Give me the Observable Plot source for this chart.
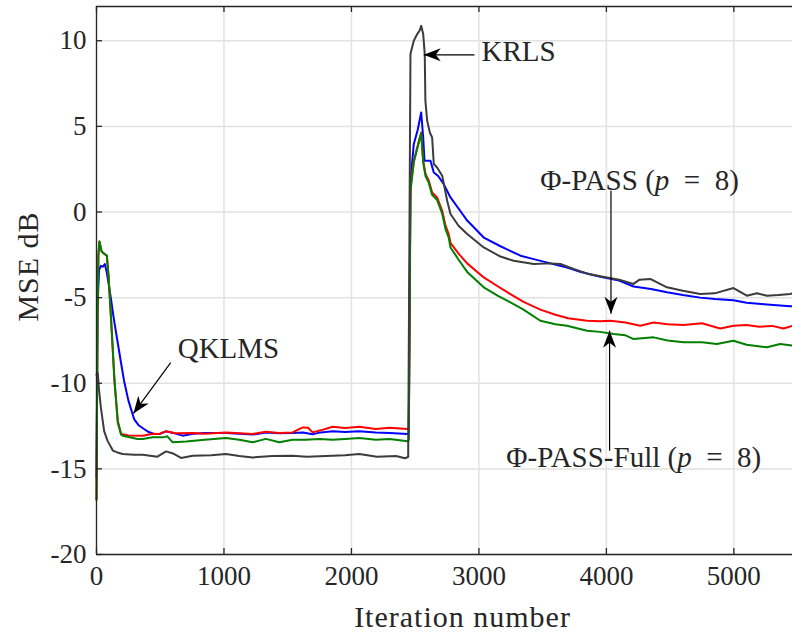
<!DOCTYPE html>
<html>
<head>
<meta charset="utf-8">
<script src="https://cdn.jsdelivr.net/npm/d3@7"></script>
<script src="https://cdn.jsdelivr.net/npm/@observablehq/plot@0.6"></script>
<style>
  html, body { margin: 0; padding: 0; background: #fff; }
  #chart svg { display: block; }
  #chart svg, #chart svg text { font-family: "Liberation Serif", "Times New Roman", serif !important; }
</style>
</head>
<body>
<div id="chart"></div>
<script>
// ---- data ----
const xDomain = [0, 5460];
const yDomain = [-20, 12];
const xTicks = [0, 1000, 2000, 3000, 4000, 5000];
const yTicks = [-20, -15, -10, -5, 0, 5, 10];
const xLabel = "Iteration number";
const yLabel = "MSE dB";

const seriesNames = ["QKLMS", "Φ-PASS", "Φ-PASS-Full", "KRLS"];
const seriesColors = ["#0000ff", "#ff0000", "#008000", "#3c3c3c"];

const qklms = [[0,-15.5],[8,-5.5],[20,-3.4],[34,-3.14],[50,-3.2],[65,-3.04],[80,-3.5],[95,-4.2],[112,-4.99],[135,-6.2],[164,-7.52],[190,-8.7],[216,-9.85],[250,-11.0],[295,-12.09],[330,-12.45],[373,-12.67],[410,-12.85],[451,-12.96],[500,-12.95],[546,-12.81],[600,-12.9],[676,-13.06],[760,-12.95],[850,-12.9],[1016,-12.9],[1120,-12.95],[1225,-13.0],[1329,-12.87],[1430,-12.92],[1538,-12.9],[1620,-12.88],[1695,-12.98],[1760,-12.87],[1852,-12.81],[1950,-12.85],[2061,-12.81],[2191,-12.87],[2300,-12.9],[2440,-12.96],[2450,-12.9],[2463,1.8],[2489,3.96],[2520,4.8],[2547,5.81],[2563,4.35],[2573,2.99],[2594,2.99],[2620,2.99],[2646,2.31],[2680,2.1],[2724,1.63],[2777,0.85],[2850,0.1],[2908,-0.5],[3038,-1.49],[3169,-2.0],[3326,-2.55],[3430,-2.75],[3560,-3.0],[3691,-3.24],[3800,-3.5],[3952,-3.78],[4100,-4.0],[4213,-4.35],[4350,-4.5],[4475,-4.69],[4600,-4.85],[4736,-5.0],[4850,-5.08],[4997,-5.15],[5100,-5.3],[5259,-5.4],[5441,-5.5],[5460,-5.5]];

const phiPass = [[0,-16.8],[8,-6],[15,-2.5],[23,-1.72],[40,-2.3],[63,-2.45],[81,-2.55],[95,-3.8],[115,-6.35],[141,-9.85],[167,-12.2],[193,-12.96],[250,-13.05],[363,-13.06],[440,-12.95],[494,-12.96],[546,-12.8],[620,-12.92],[755,-12.9],[850,-12.95],[1016,-12.87],[1120,-12.92],[1225,-12.96],[1329,-12.83],[1430,-12.9],[1538,-12.87],[1617,-12.58],[1660,-12.6],[1695,-12.87],[1760,-12.75],[1852,-12.54],[1950,-12.62],[2061,-12.54],[2191,-12.67],[2300,-12.6],[2440,-12.67],[2450,-12.6],[2463,1.43],[2489,2.99],[2516,3.77],[2547,4.64],[2563,2.99],[2581,2.22],[2607,1.83],[2633,1.14],[2672,0.85],[2712,0.07],[2738,-0.8],[2763,-1.29],[2777,-1.8],[2842,-2.45],[2908,-3.0],[3038,-3.82],[3150,-4.35],[3247,-4.79],[3350,-5.25],[3482,-5.7],[3600,-6.0],[3700,-6.2],[3848,-6.35],[3950,-6.38],[4031,-6.35],[4150,-6.45],[4266,-6.64],[4370,-6.45],[4480,-6.55],[4605,-6.6],[4750,-6.5],[4893,-6.8],[4997,-6.64],[5100,-6.6],[5200,-6.7],[5300,-6.65],[5389,-6.8],[5460,-6.65]];

const phiPassFull = [[0,-16.8],[8,-6],[15,-2.5],[23,-1.72],[40,-2.3],[63,-2.45],[81,-2.55],[95,-3.8],[115,-6.35],[141,-9.85],[167,-12.3],[193,-13.0],[206,-13.06],[260,-13.15],[321,-13.25],[363,-13.25],[440,-13.15],[520,-13.16],[555,-13.1],[598,-13.45],[703,-13.4],[850,-13.3],[1016,-13.2],[1120,-13.3],[1225,-13.45],[1329,-13.25],[1433,-13.45],[1538,-13.3],[1640,-13.3],[1750,-13.25],[1852,-13.3],[1950,-13.25],[2061,-13.2],[2191,-13.3],[2300,-13.25],[2440,-13.39],[2450,-13.3],[2463,1.2],[2489,2.9],[2516,3.7],[2547,4.6],[2563,2.9],[2581,2.1],[2607,1.7],[2633,1.0],[2672,0.7],[2712,-0.1],[2738,-1.0],[2763,-1.5],[2777,-2.07],[2842,-2.8],[2908,-3.5],[3038,-4.4],[3150,-4.9],[3247,-5.28],[3350,-5.7],[3482,-6.35],[3600,-6.55],[3691,-6.64],[3848,-6.93],[3950,-7.0],[4057,-7.12],[4150,-7.2],[4213,-7.42],[4370,-7.32],[4480,-7.5],[4605,-7.61],[4750,-7.6],[4866,-7.71],[4997,-7.52],[5100,-7.75],[5259,-7.9],[5363,-7.71],[5460,-7.8]];

const krls = [[0,-9.5],[10,-9.4],[20,-10.4],[34,-11.4],[60,-12.8],[86,-13.35],[128,-13.93],[164,-14.04],[206,-14.13],[295,-14.17],[363,-14.17],[478,-14.29],[546,-13.98],[600,-14.1],[663,-14.36],[755,-14.23],[900,-14.2],[1016,-14.13],[1120,-14.25],[1225,-14.33],[1380,-14.25],[1538,-14.23],[1650,-14.29],[1800,-14.25],[1950,-14.2],[2061,-14.13],[2200,-14.29],[2350,-14.25],[2420,-14.38],[2445,-14.3],[2463,9.22],[2489,10.0],[2516,10.39],[2535,10.6],[2547,10.87],[2563,10.39],[2575,9.22],[2580,6.5],[2594,5.33],[2615,4.64],[2633,4.35],[2646,2.8],[2672,2.6],[2712,2.12],[2751,0.66],[2777,-0.12],[2840,-0.8],[2908,-1.29],[3038,-2.07],[3169,-2.6],[3273,-2.85],[3430,-3.04],[3560,-3.0],[3639,-3.04],[3743,-3.33],[3850,-3.6],[4005,-3.82],[4100,-3.95],[4213,-4.2],[4260,-3.95],[4344,-3.91],[4475,-4.4],[4600,-4.6],[4736,-4.79],[4850,-4.75],[4997,-4.44],[5102,-4.89],[5180,-4.75],[5259,-4.89],[5350,-4.85],[5441,-4.79],[5460,-4.75]];

// annotations (data coordinates)
const labelTexts = ["KRLS", "QKLMS", "Φ-PASS (p = 8)", "Φ-PASS-Full (p = 8)"];
const labelX = [3020, 637, 3482, 3215];
const labelY = [9.36, -8.0, 1.82, -14.35];
const arrowTail = [[2965, 9.18], [582, -8.8], [4036, 1.24], [4025, -13.94]];
const arrowTip = [[2567, 9.18], [290, -11.76], [4036, -5.94], [4025, -6.93]];

// ---- layout ----
const W = 792, H = 636;
const mL = 96, mR = 0, mT = 6, mB = 82;
const font = "'Liberation Serif', 'Times New Roman', serif";
const ink = "#262626";

const rows = [];
[qklms, phiPass, phiPassFull, krls].forEach((s, i) => {
  s.forEach(([x, y]) => rows.push({series: seriesNames[i], x, y}));
});

const labels = labelTexts.map((t, i) => ({t, x: labelX[i], y: labelY[i]}));

const sx = Plot.scale({x: {domain: xDomain, range: [mL, W - mR]}});
const sy = Plot.scale({y: {domain: yDomain, range: [H - mB, mT]}});
const arrows = arrowTail.map((a, i) => {
  const b = arrowTip[i];
  const dx = sx.apply(b[0]) - sx.apply(a[0]);
  const dy = sy.apply(b[1]) - sy.apply(a[1]);
  return {x1: a[0], y1: a[1], x2: b[0], y2: b[1], angle: Math.atan2(dx, -dy) * 180 / Math.PI};
});
// y-axis title anchor: 68px left of the frame, 14px above its middle
const yTitle = [{t: yLabel, x: sx.invert(mL - 68), y: sy.invert((mT + H - mB) / 2 - 14)}];

const arrowHead = {
  draw(ctx) {
    ctx.moveTo(0, 0);
    ctx.lineTo(-6.5, 17);
    ctx.lineTo(0, 12);
    ctx.lineTo(6.5, 17);
    ctx.closePath();
  }
};

const tickLenX = (yDomain[1] - yDomain[0]) * 6 / (H - mT - mB);
const tickLenY = (xDomain[1] - xDomain[0]) * 6 / (W - mL - mR);
const fmt = d => String(d);

const chart = Plot.plot({
  width: W, height: H,
  marginLeft: mL, marginRight: mR, marginTop: mT, marginBottom: mB,
  style: {fontFamily: font, fontSize: "27px", color: ink, background: "#fff"},
  x: {domain: xDomain, ticks: xTicks},
  y: {domain: yDomain, ticks: yTicks},
  color: {domain: seriesNames, range: seriesColors},
  marks: [
    Plot.gridX(xTicks, {stroke: "#e2e2e2", strokeOpacity: 1, strokeWidth: 1.5}),
    Plot.gridY(yTicks, {stroke: "#e2e2e2", strokeOpacity: 1, strokeWidth: 1.5}),
    Plot.line(rows, {x: "x", y: "y", z: "series", stroke: "series", strokeWidth: 2, curve: "linear"}),
    // frame lines
    Plot.ruleX([xDomain[0]], {stroke: ink, strokeWidth: 1.3}),
    Plot.ruleY([yDomain[0], yDomain[1]], {stroke: ink, strokeWidth: 1.3}),
    // inward tick marks
    Plot.ruleX(xTicks, {x: d => d, y1: yDomain[0], y2: yDomain[0] + tickLenX, stroke: ink, strokeWidth: 1.3}),
    Plot.ruleX(xTicks, {x: d => d, y1: yDomain[1], y2: yDomain[1] - tickLenX, stroke: ink, strokeWidth: 1.3}),
    Plot.ruleY(yTicks, {y: d => d, x1: xDomain[0], x2: xDomain[0] + tickLenY, stroke: ink, strokeWidth: 1.3}),
    Plot.axisX(xTicks, {tickSize: 0, tickPadding: 11, label: null, tickFormat: fmt, fontSize: 27, fontFamily: font, fill: ink}),
    Plot.axisY(yTicks, {tickSize: 0, tickPadding: 10, label: null, tickFormat: fmt, fontSize: 27, fontFamily: font, fill: ink}),
    Plot.text([xLabel], {frameAnchor: "bottom", textAnchor: "middle", lineAnchor: "middle", dx: 18, dy: 63, fontSize: 30, fontFamily: font, fill: ink, text: d => d}),
    Plot.text(yTitle, {x: "x", y: "y", text: "t", textAnchor: "middle", lineAnchor: "middle", rotate: -90, fontSize: 30, fontFamily: font, fill: ink, clip: false}),
    // annotations
    Plot.link(arrows, {x1: "x1", y1: "y1", x2: "x2", y2: "y2", stroke: "#000", strokeWidth: 1.2}),
    Plot.dot(arrows, {x: "x2", y: "y2", symbol: arrowHead, rotate: "angle", fill: "#000", stroke: "none", r: 5}),
    Plot.text(labels, {x: "x", y: "y", text: "t", textAnchor: "start", lineAnchor: "middle", fontSize: 29, fontFamily: font, fill: ink})
  ]
});

// italic p and wider math spacing in labels, letter spacing for axis labels
d3.select(chart).selectAll("text").each(function() {
  const t = this.textContent;
  if (t.includes("(p = 8)")) {
    const pre = t.replace("(p = 8)", "");
    this.textContent = "";
    const ns = "http://www.w3.org/2000/svg";
    const a = document.createElementNS(ns, "tspan"); a.textContent = pre + "(";
    const b = document.createElementNS(ns, "tspan"); b.textContent = "p"; b.setAttribute("font-style", "italic");
    const c = document.createElementNS(ns, "tspan"); c.textContent = "\u2002=\u20028)";
    this.append(a, b, c);
  }
  if (t === xLabel || t === yLabel) this.setAttribute("letter-spacing", "1px");
});

document.getElementById("chart").appendChild(chart);
</script>
</body>
</html>
